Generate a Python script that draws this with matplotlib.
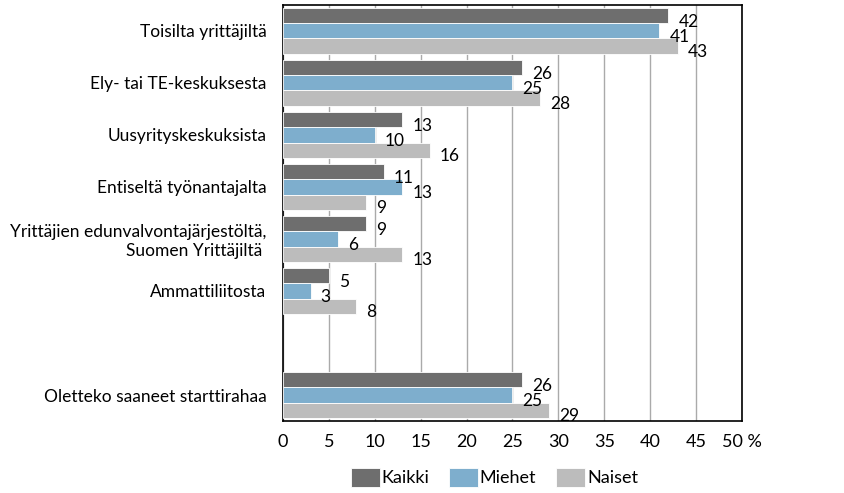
import matplotlib.pyplot as plt
import numpy as np

plt.rcParams['font.family'] = ['Lato', 'DejaVu Sans']

# chart data (percent)
categories = ['Toisilta yrittäjiltä', 'Ely- tai TE-keskuksesta', 'Uusyrityskeskuksista',
              'Entiseltä työnantajalta', 'Yrittäjien edunvalvontajärjestöltä,\nSuomen Yrittäjiltä ',
              'Ammattiliitosta', '', 'Oletteko saaneet starttirahaa']
kaikki = [42, 26, 13, 11, 9, 5, None, 26]
miehet = [41, 25, 10, 13, 6, 3, None, 25]
naiset = [43, 28, 16, 9, 13, 8, None, 29]
series_names = ['Kaikki', 'Miehet', 'Naiset']
colors = ['#6e6e6e', '#7eaecd', '#bcbcbc']
xticks = [0, 5, 10, 15, 20, 25, 30, 35, 40, 45, 50]
xticklabels = ['0', '5', '10', '15', '20', '25', '30', '35', '40', '45', '50 %']

fig = plt.figure(figsize=(8.45, 4.93), dpi=100)
ax = fig.add_axes([0.335, 0.146, 0.543, 0.844])

y = np.arange(len(categories))
h = 0.29
for i, (vals, name, col) in enumerate(zip([kaikki, miehet, naiset], series_names, colors)):
    yy = [yv + (i - 1) * h for yv, v in zip(y, vals) if v is not None]
    vv = [v for v in vals if v is not None]
    ax.barh(yy, vv, height=h, color=col, edgecolor='white', linewidth=0.6,
            label=name, zorder=3)
    for yv, v in zip(yy, vv):
        ax.text(v + 1.1, yv + 0.12, str(v), va='center', ha='left', fontsize=12.5, zorder=4)

ax.set_ylim(len(categories) - 0.5, -0.5)
ax.set_xlim(0, 50)
ax.set_xticks(xticks)
ax.set_xticklabels(xticklabels, fontsize=13)
ax.set_yticks(y)
ax.set_yticklabels(categories, fontsize=12.5)
ax.tick_params(axis='both', length=0)
ax.tick_params(axis='x', pad=9)
ax.tick_params(axis='y', pad=12)
ax.grid(axis='x', color='#aaaaaa', linewidth=1, zorder=0)
for s in ax.spines.values():
    s.set_color('black')
    s.set_linewidth(1.2)

fig.legend(loc='lower center', bbox_to_anchor=(0.585, -0.02), ncol=3, frameon=False,
           fontsize=13, handlelength=1.6, handleheight=1.2, handletextpad=0.1,
           columnspacing=1.1)

fig.savefig('out.png', dpi=100)
